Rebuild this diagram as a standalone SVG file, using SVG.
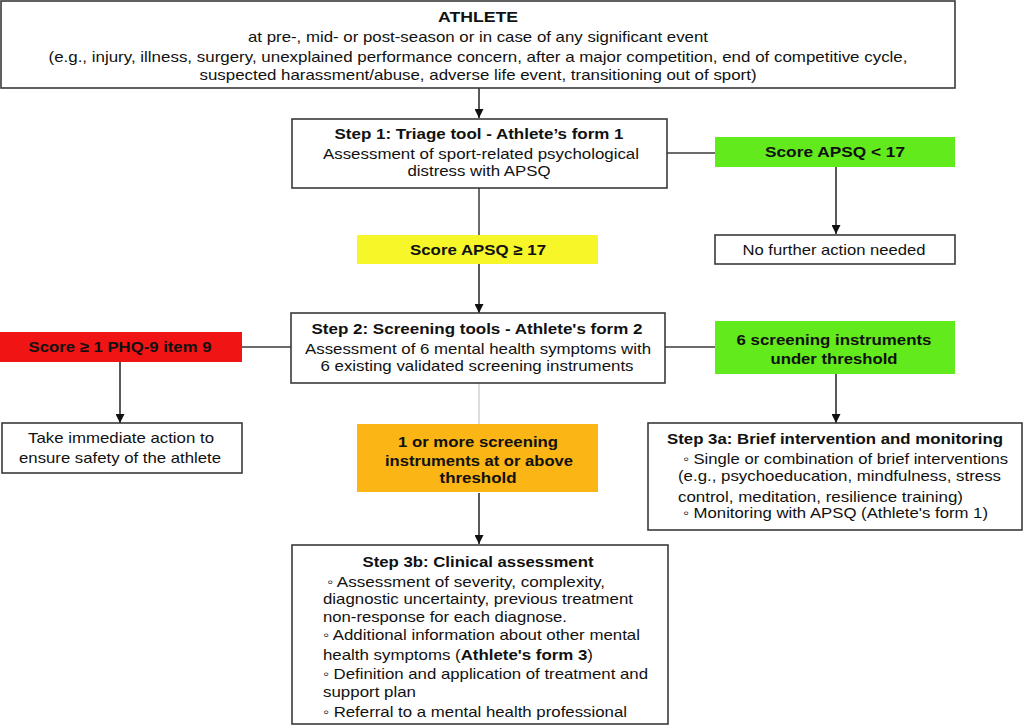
<svg xmlns="http://www.w3.org/2000/svg" width="1024" height="728" viewBox="0 0 1024 728">
<defs>
<marker id="arr" viewBox="0 0 10 10" refX="10" refY="5" markerWidth="9" markerHeight="9" markerUnits="userSpaceOnUse" orient="auto">
<path d="M0,0 L10,5 L0,10 z" fill="#111"/>
</marker>
<style>
.box{fill:#fff;stroke:#3a3a3a;stroke-width:1.6}
.t{font-family:"Liberation Sans",Arial,sans-serif;font-size:15px;fill:#111;text-anchor:middle}
.l{text-anchor:start}
.b{font-weight:bold}
.c{stroke:#3a3a3a;stroke-width:1.5;fill:none}
.a{stroke:#222;stroke-width:1.5;fill:none;marker-end:url(#arr)}
</style>
</defs>
<rect width="1024" height="728" fill="#fff"/>

<g id="connectors">
<line class="a" x1="479" y1="88" x2="479" y2="118"/>
<line class="c" x1="667" y1="153" x2="715" y2="153"/>
<line class="a" x1="836" y1="167" x2="836" y2="234"/>
<line class="c" x1="479" y1="188" x2="479" y2="235"/>
<line class="a" x1="479" y1="264" x2="479" y2="313"/>
<line class="c" x1="242" y1="347" x2="291" y2="347"/>
<line class="c" x1="665" y1="347" x2="715" y2="347"/>
<line class="a" x1="120" y1="362" x2="120" y2="423"/>
<line class="a" x1="836" y1="374" x2="836" y2="423"/>
<line x1="479" y1="383" x2="479" y2="424" stroke="#bbb" stroke-width="1"/>
<line class="a" x1="479" y1="493" x2="479" y2="544"/>
</g>

<g id="athlete">
<rect class="box" x="1" y="1" width="954" height="87"/>
<text class="t b" x="478" y="22" textLength="80" lengthAdjust="spacingAndGlyphs">ATHLETE</text>
<text class="t" x="478" y="42" textLength="460" lengthAdjust="spacingAndGlyphs">at pre-, mid- or post-season or in case of any significant event</text>
<text class="t" x="478" y="62" textLength="859" lengthAdjust="spacingAndGlyphs">(e.g., injury, illness, surgery, unexplained performance concern, after a major competition, end of competitive cycle,</text>
<text class="t" x="478" y="80" textLength="557" lengthAdjust="spacingAndGlyphs">suspected harassment/abuse, adverse life event, transitioning out of sport)</text>
</g>

<g id="step1">
<rect class="box" x="292" y="119" width="375" height="69"/>
<text class="t b" x="479" y="139" textLength="289" lengthAdjust="spacingAndGlyphs">Step 1: Triage tool - Athlete’s form 1</text>
<text class="t" x="481" y="159" textLength="316" lengthAdjust="spacingAndGlyphs">Assessment of sport-related psychological</text>
<text class="t" x="479" y="176" textLength="143" lengthAdjust="spacingAndGlyphs">distress with APSQ</text>
</g>

<g id="apsq-low">
<rect x="715" y="137" width="240" height="30" fill="#62ea1c"/>
<text class="t b" x="835" y="157" textLength="140" lengthAdjust="spacingAndGlyphs">Score APSQ &lt; 17</text>
</g>

<g id="no-action">
<rect class="box" x="715" y="235" width="240" height="29"/>
<text class="t" x="834" y="255" textLength="183" lengthAdjust="spacingAndGlyphs">No further action needed</text>
</g>

<g id="apsq-high">
<rect x="357" y="235" width="241" height="29" fill="#f6f629"/>
<text class="t b" x="478" y="255" textLength="136" lengthAdjust="spacingAndGlyphs">Score APSQ ≥ 17</text>
</g>

<g id="step2">
<rect class="box" x="291" y="313" width="374" height="70"/>
<text class="t b" x="477" y="334" textLength="331" lengthAdjust="spacingAndGlyphs">Step 2: Screening tools - Athlete's form 2</text>
<text class="t" x="478" y="354" textLength="346" lengthAdjust="spacingAndGlyphs">Assessment of 6 mental health symptoms with</text>
<text class="t" x="477" y="371" textLength="313" lengthAdjust="spacingAndGlyphs">6 existing validated screening instruments</text>
</g>

<g id="phq9">
<rect x="0" y="332" width="242" height="30" fill="#f01414"/>
<text class="t b" x="120" y="352" textLength="183" lengthAdjust="spacingAndGlyphs">Score ≥ 1 PHQ-9 item 9</text>
</g>

<g id="under-threshold">
<rect x="715" y="321" width="240" height="53" fill="#62ea1c"/>
<text class="t b" x="834" y="345" textLength="195" lengthAdjust="spacingAndGlyphs">6 screening instruments</text>
<text class="t b" x="834" y="364" textLength="127" lengthAdjust="spacingAndGlyphs">under threshold</text>
</g>

<g id="immediate-action">
<rect class="box" x="2" y="423" width="240" height="50"/>
<text class="t" x="121" y="443" textLength="186" lengthAdjust="spacingAndGlyphs">Take immediate action to</text>
<text class="t" x="120" y="463" textLength="202" lengthAdjust="spacingAndGlyphs">ensure safety of the athlete</text>
</g>

<g id="above-threshold">
<rect x="357" y="424" width="241" height="68" fill="#fbb514"/>
<text class="t b" x="478" y="447" textLength="160" lengthAdjust="spacingAndGlyphs">1 or more screening</text>
<text class="t b" x="479" y="466" textLength="188" lengthAdjust="spacingAndGlyphs">instruments at or above</text>
<text class="t b" x="478" y="483" textLength="77" lengthAdjust="spacingAndGlyphs">threshold</text>
</g>

<g id="step3a">
<rect class="box" x="648" y="423" width="374" height="107"/>
<text class="t b l" x="667" y="444" textLength="336" lengthAdjust="spacingAndGlyphs">Step 3a: Brief intervention and monitoring</text>
<text class="t l" x="683" y="464" textLength="325" lengthAdjust="spacingAndGlyphs">◦ Single or combination of brief interventions</text>
<text class="t l" x="678" y="481" textLength="323" lengthAdjust="spacingAndGlyphs">(e.g., psychoeducation, mindfulness, stress</text>
<text class="t l" x="678" y="502" textLength="285" lengthAdjust="spacingAndGlyphs">control, meditation, resilience training)</text>
<text class="t l" x="683" y="518" textLength="305" lengthAdjust="spacingAndGlyphs">◦ Monitoring with APSQ (Athlete's form 1)</text>
</g>

<g id="step3b">
<rect class="box" x="292" y="545" width="376" height="179"/>
<text class="t b" x="478" y="567" textLength="231" lengthAdjust="spacingAndGlyphs">Step 3b: Clinical assessment</text>
<text class="t l" x="327" y="587" textLength="278" lengthAdjust="spacingAndGlyphs">◦ Assessment of severity, complexity,</text>
<text class="t l" x="323" y="604" textLength="310" lengthAdjust="spacingAndGlyphs">diagnostic uncertainty, previous treatment</text>
<text class="t l" x="323" y="622" textLength="244" lengthAdjust="spacingAndGlyphs">non-response for each diagnose.</text>
<text class="t l" x="323" y="640" textLength="317" lengthAdjust="spacingAndGlyphs">◦ Additional information about other mental</text>
<text class="t l" x="323" y="660" textLength="270" lengthAdjust="spacingAndGlyphs">health symptoms (<tspan class="b">Athlete's form 3</tspan>)</text>
<text class="t l" x="323" y="679" textLength="325" lengthAdjust="spacingAndGlyphs">◦ Definition and application of treatment and</text>
<text class="t l" x="323" y="697" textLength="93" lengthAdjust="spacingAndGlyphs">support plan</text>
<text class="t l" x="323" y="717" textLength="304" lengthAdjust="spacingAndGlyphs">◦ Referral to a mental health professional</text>
</g>
</svg>
